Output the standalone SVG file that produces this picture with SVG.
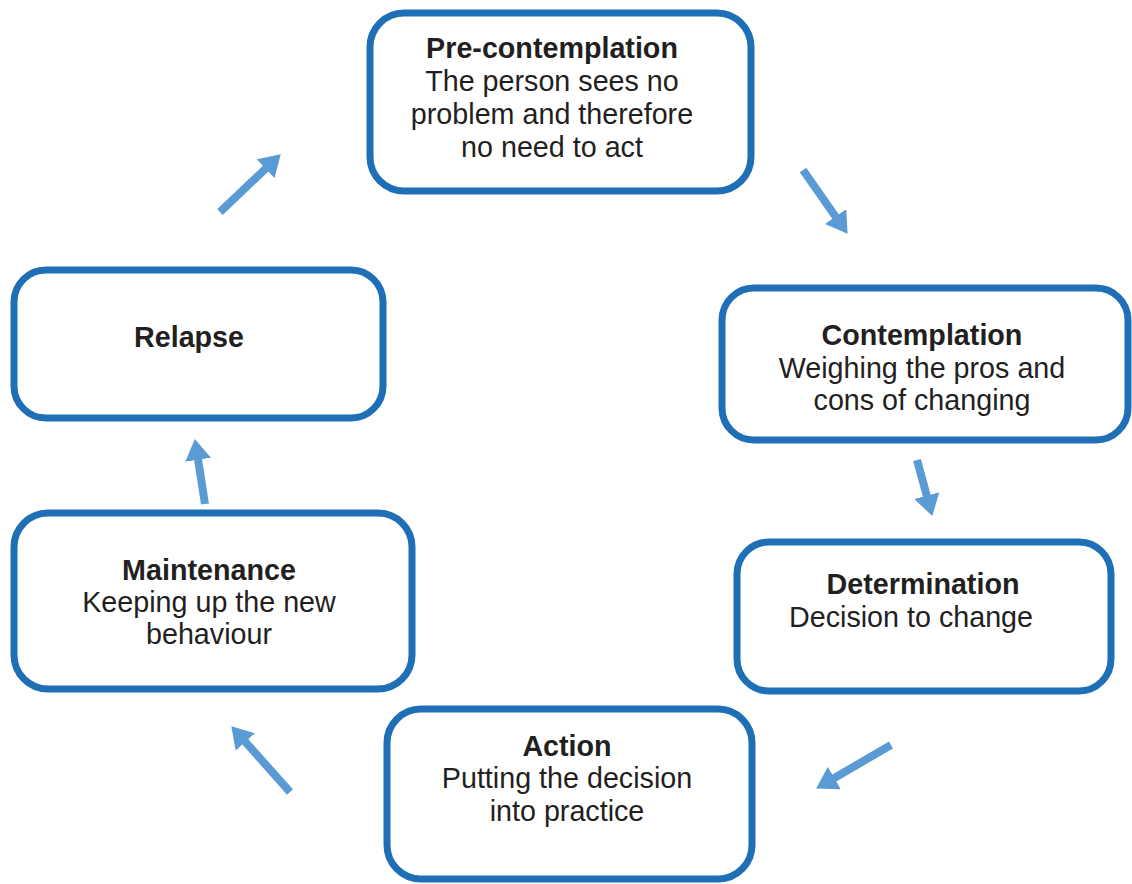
<svg xmlns="http://www.w3.org/2000/svg" width="1132" height="884" viewBox="0 0 1132 884">
  <style>
    .box { fill: #ffffff; stroke: #1f6fb6; stroke-width: 7; }
    .t { font-family: "Liberation Sans", Arial, sans-serif; font-size: 28.7px; fill: #231f20; text-anchor: middle; }
    .b { font-weight: bold; }
    .arrow { stroke: #5b9bd5; stroke-width: 8; fill: none; marker-end: url(#head); }
  </style>
  <defs>
    <marker id="head" markerUnits="userSpaceOnUse" markerWidth="22" markerHeight="26" viewBox="0 0 22 26" refX="2" refY="13" orient="auto">
      <path d="M0,0 L21,13 L0,26 z" fill="#5b9bd5"/>
    </marker>
  </defs>
  <rect width="1132" height="884" fill="#ffffff"/>

  <g id="connectors">
    <line class="arrow" x1="803" y1="170" x2="836.7" y2="218.2"/>
    <line class="arrow" x1="917" y1="460" x2="927.3" y2="497.6"/>
    <line class="arrow" x1="891" y1="745" x2="832.6" y2="779"/>
    <line class="arrow" x1="290" y1="792" x2="244" y2="740.4"/>
    <line class="arrow" x1="205" y1="504" x2="197.8" y2="457.8"/>
    <line class="arrow" x1="220" y1="212" x2="267" y2="167.4"/>
  </g>

  <g id="precontemplation">
    <rect class="box" x="370" y="13" width="381" height="178" rx="34"/>
    <text class="t b" x="552" y="58">Pre-contemplation</text>
    <text class="t" x="552" y="91">The person sees no</text>
    <text class="t" x="552" y="124">problem and therefore</text>
    <text class="t" x="552" y="157">no need to act</text>
  </g>

  <g id="contemplation">
    <rect class="box" x="722" y="288" width="406" height="152" rx="32"/>
    <text class="t b" x="922" y="345">Contemplation</text>
    <text class="t" x="922" y="378">Weighing the pros and</text>
    <text class="t" x="922" y="410">cons of changing</text>
  </g>

  <g id="determination">
    <rect class="box" x="737" y="542" width="374" height="149" rx="32"/>
    <text class="t b" x="923" y="594">Determination</text>
    <text class="t" x="911" y="627">Decision to change</text>
  </g>

  <g id="action">
    <rect class="box" x="387" y="709" width="365" height="170" rx="34"/>
    <text class="t b" x="567" y="756">Action</text>
    <text class="t" x="567" y="788">Putting the decision</text>
    <text class="t" x="567" y="821">into practice</text>
  </g>

  <g id="maintenance">
    <rect class="box" x="14" y="513" width="398" height="176" rx="34"/>
    <text class="t b" x="209" y="580">Maintenance</text>
    <text class="t" x="209" y="612">Keeping up the new</text>
    <text class="t" x="209" y="644">behaviour</text>
  </g>

  <g id="relapse">
    <rect class="box" x="14" y="270" width="369" height="148" rx="32"/>
    <text class="t b" x="189" y="347">Relapse</text>
  </g>
</svg>
